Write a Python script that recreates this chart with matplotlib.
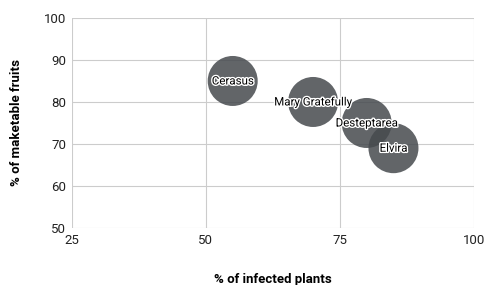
import matplotlib.pyplot as plt
import matplotlib.patheffects as pe

varieties = ["Cerasus", "Mary Gratefully", "Desteptarea", "Elvira"]
infected = [55, 70, 80, 85]
marketable = [85, 80, 75, 69]

plt.rcParams['font.family'] = ['Roboto', 'DejaVu Sans']

fig = plt.figure(figsize=(4.86, 2.85), dpi=100)
ax = fig.add_axes([0.148, 0.2, 0.827, 0.737])

ax.scatter(infected, marketable, s=1296, color="#464a4e", alpha=0.85,
           edgecolors="none", zorder=3)
for name, x, y in zip(varieties, infected, marketable):
    ax.text(x, y, name, ha="center", va="center", fontsize=8.3, color="black",
            zorder=4, path_effects=[pe.withStroke(linewidth=2, foreground="white")])

ax.set_xlim(25, 100)
ax.set_ylim(50, 100)
ax.set_xticks([25, 50, 75, 100])
ax.set_yticks([50, 60, 70, 80, 90, 100])
ax.grid(True, color="#cccccc", linewidth=0.8, zorder=0)
for s in ax.spines.values():
    s.set_visible(False)
ax.tick_params(length=0, labelsize=9.5, colors="#222222", pad=4)
ax.set_xlabel("% of infected plants", fontsize=9.5, fontweight="bold", labelpad=19)
ax.set_ylabel("% of maketable fruits", fontsize=9.5, fontweight="bold", labelpad=15)

fig.savefig("out.png", dpi=100)
